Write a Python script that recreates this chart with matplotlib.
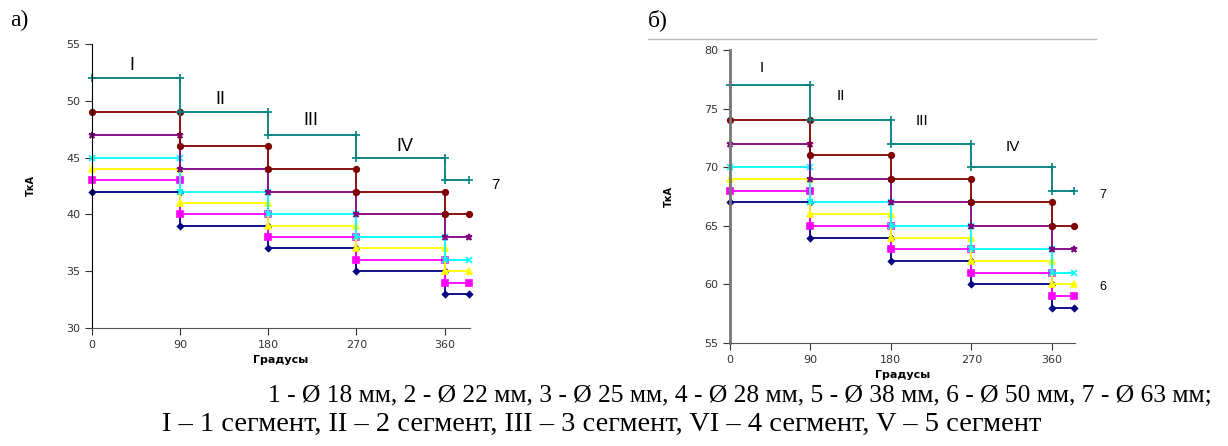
import numpy as np
import matplotlib
matplotlib.use('Agg')
import matplotlib.pyplot as plt

# segment borders (degrees)
edges = [0, 90, 180, 270, 360, 385]

# current per segment, chart a)
a_vals = {
    '1': [42, 39, 37, 35, 33],
    '2': [43, 40, 38, 36, 34],
    '3': [44, 41, 39, 37, 35],
    '4': [45, 42, 40, 38, 36],
    '5': [47, 44, 42, 40, 38],
    '6': [49, 46, 44, 42, 40],
    '7': [52, 49, 47, 45, 43],
}
# chart b)
b_vals = {
    '1': [67, 64, 62, 60, 58],
    '2': [68, 65, 63, 61, 59],
    '3': [69, 66, 64, 62, 60],
    '4': [70, 67, 65, 63, 61],
    '5': [72, 69, 67, 65, 63],
    '6': [74, 71, 69, 67, 65],
    '7': [77, 74, 72, 70, 68],
}
xticks = [0, 90, 180, 270, 360]
roman = ['I', 'II', 'III', 'IV']

colors = {'1': '#000080', '2': '#FF00FF', '3': '#FFFF00', '4': '#00FFFF',
          '5': '#800080', '6': '#800000', '7': '#008080'}
markers = {'1': 'D', '2': 's', '3': '^', '4': 'x', '5': '*', '6': 'o', '7': '+'}
msize = {'1': 3, '2': 4, '3': 5, '4': 5, '5': 5, '6': 4, '7': 6}

fig = plt.figure(figsize=(12.28, 4.46), dpi=100)

x_pts = np.repeat(edges, 2)[1:-1]


def draw(ax, vals, ylim, step, roman_pos, num_pos, num_size, thick_y):
    for k in ['1', '2', '3', '4', '5', '6', '7']:
        y_pts = np.repeat(vals[k], 2)
        ax.plot(x_pts, y_pts, color=colors[k], lw=1.3, marker=markers[k],
                ms=msize[k], mew=1.2, clip_on=False)
    ax.set_xlim(0, 386)
    ax.set_ylim(*ylim)
    ax.set_yticks(np.arange(ylim[0], ylim[1] + 1, step))
    ax.set_xticks(xticks)
    ax.spines['top'].set_visible(False)
    ax.spines['right'].set_visible(False)
    if thick_y:
        ax.spines['left'].set_color('#777777')
        ax.spines['left'].set_linewidth(2)
    ax.spines['bottom'].set_color('#555555')
    ax.tick_params(direction='out', length=5, labelsize=8, colors='#333333')
    ax.set_xlabel('Градусы', fontsize=8, fontweight='bold', labelpad=4)
    ax.set_ylabel('ТкА', fontsize=7, fontweight='bold', labelpad=22)
    for r, (px, py) in zip(roman, roman_pos):
        ax.text(px, py, r, fontsize=num_size, ha='center', va='center',
                family='Liberation Sans')
    for t, (px, py) in num_pos:
        ax.text(px, py, t, fontsize=num_size - 2, ha='center', va='center',
                family='Liberation Sans', clip_on=False)


ax1 = fig.add_axes([92 / 1228, 1 - 328 / 446, 378 / 1228, 284 / 446])
draw(ax1, a_vals, (30, 55), 5,
     [(41, 53.1), (131, 50.1), (224, 48.3), (320, 46.0)],
     [('7', (412, 42.6))], 13, False)

ax2 = fig.add_axes([730 / 1228, 1 - 343 / 446, 345 / 1228, 293 / 446])
draw(ax2, b_vals, (55, 80), 5,
     [(35, 78.5), (124, 76.1), (215, 73.9), (316, 71.7)],
     [('7', (417, 67.6)), ('6', (417, 59.8))], 11, True)

fig.add_artist(plt.Line2D([648 / 1228, 1096 / 1228], [1 - 39 / 446] * 2,
                          color='#bbbbbb', lw=1))

fig.text(10 / 1228, 1 - 20 / 446, 'а)', fontsize=17, family='Liberation Serif',
         va='center')
fig.text(648 / 1228, 1 - 20 / 446, 'б)', fontsize=17, family='Liberation Serif',
         va='center')

fig.text(268 / 1228, 1 - 396 / 446,
         '1 - Ø 18 мм, 2 - Ø 22 мм, 3 - Ø 25 мм, 4 - Ø 28 мм, 5 - Ø 38 мм, '
         '6 - Ø 50 мм, 7 - Ø 63 мм;',
         fontsize=18.4, family='Liberation Serif', ha='left', va='center')
fig.text(162 / 1228, 1 - 424 / 446,
         'I – 1 сегмент, II – 2 сегмент, III – 3 сегмент, VI – 4 сегмент, '
         'V – 5 сегмент',
         fontsize=20.5, family='Liberation Serif', ha='left', va='center')

fig.savefig('out.png', dpi=100)
